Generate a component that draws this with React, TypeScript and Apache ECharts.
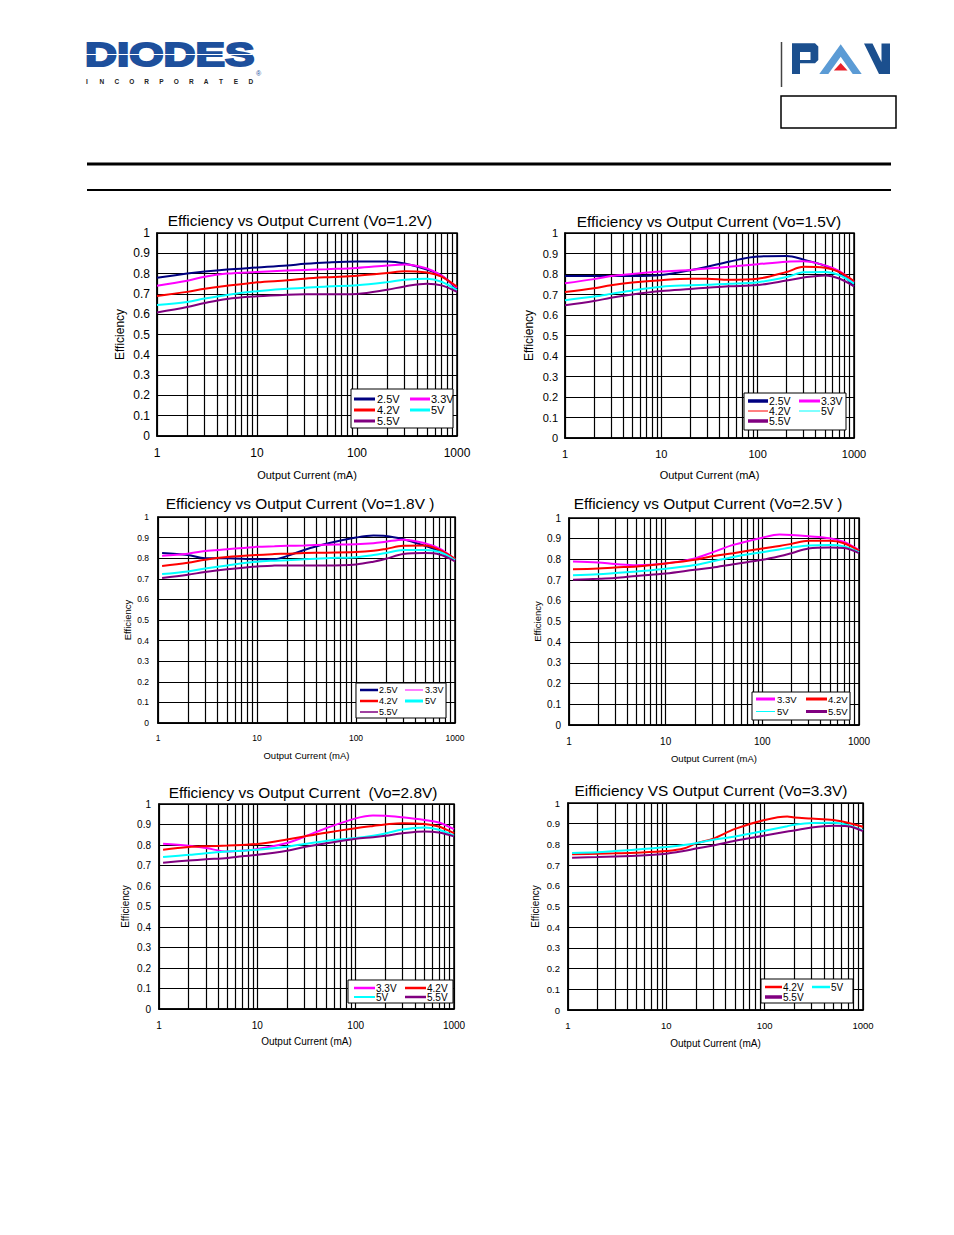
import React, { useEffect, useRef } from "react";
import * as echarts from "echarts";

const FONT = '"Liberation Sans", Arial, sans-serif';

// ---------- axis ticks ----------
const X_MINOR_LINES = [2, 3, 4, 5, 6, 7, 8, 9, 20, 30, 40, 50, 60, 70, 80, 90, 200, 300, 400, 500, 600, 700, 800, 900];

// ---------- Vo = 1.2V ----------
const vo12X = [1, 2, 3, 5, 10, 20, 30, 50, 100, 200, 300, 500, 700, 1000];
const vo12_25 = [0.78, 0.8, 0.81, 0.82, 0.83, 0.84, 0.848, 0.855, 0.86, 0.86, 0.85, 0.82, 0.79, 0.725];
const vo12_33 = [0.74, 0.765, 0.785, 0.8, 0.808, 0.815, 0.818, 0.822, 0.828, 0.84, 0.845, 0.825, 0.79, 0.73];
const vo12_42 = [0.69, 0.71, 0.725, 0.74, 0.757, 0.767, 0.775, 0.782, 0.79, 0.803, 0.812, 0.805, 0.785, 0.735];
const vo12_50 = [0.645, 0.66, 0.677, 0.695, 0.713, 0.725, 0.73, 0.737, 0.743, 0.758, 0.77, 0.775, 0.76, 0.718];
const vo12_55 = [0.608, 0.635, 0.655, 0.675, 0.688, 0.696, 0.698, 0.698, 0.7, 0.72, 0.737, 0.75, 0.742, 0.71];

// ---------- Vo = 1.5V ----------
const vo15X = [1, 2, 3, 5, 10, 20, 30, 50, 100, 200, 300, 500, 700, 1000];
const vo15_25 = [0.79, 0.79, 0.79, 0.79, 0.795, 0.818, 0.835, 0.86, 0.885, 0.888, 0.87, 0.84, 0.81, 0.74];
const vo15_33 = [0.755, 0.775, 0.79, 0.8, 0.812, 0.82, 0.827, 0.835, 0.848, 0.86, 0.862, 0.842, 0.815, 0.76];
const vo15_42 = [0.712, 0.73, 0.745, 0.758, 0.77, 0.777, 0.777, 0.772, 0.777, 0.81, 0.835, 0.83, 0.81, 0.765];
const vo15_50 = [0.672, 0.69, 0.703, 0.72, 0.738, 0.745, 0.748, 0.752, 0.76, 0.785, 0.808, 0.81, 0.795, 0.753];
const vo15_55 = [0.647, 0.668, 0.684, 0.7, 0.717, 0.727, 0.733, 0.74, 0.746, 0.768, 0.783, 0.793, 0.778, 0.74];

// ---------- Vo = 1.8V ----------
const vo18X = [1.1, 2, 3, 5, 10, 15, 20, 30, 50, 100, 150, 200, 300, 500, 700, 1000];
const vo18_25 = [0.825, 0.815, 0.8, 0.8, 0.795, 0.795, 0.81, 0.84, 0.87, 0.9, 0.91, 0.908, 0.892, 0.86, 0.835, 0.793];
const vo18_33 = [0.812, 0.822, 0.835, 0.843, 0.855, 0.858, 0.86, 0.862, 0.865, 0.868, 0.873, 0.88, 0.89, 0.872, 0.847, 0.795];
const vo18_42 = [0.762, 0.778, 0.793, 0.806, 0.816, 0.82, 0.822, 0.825, 0.827, 0.83, 0.836, 0.845, 0.86, 0.862, 0.84, 0.797];
const vo18_50 = [0.723, 0.736, 0.75, 0.765, 0.783, 0.788, 0.79, 0.795, 0.8, 0.805, 0.815, 0.825, 0.84, 0.84, 0.83, 0.79];
const vo18_55 = [0.704, 0.72, 0.733, 0.746, 0.76, 0.764, 0.765, 0.765, 0.765, 0.77, 0.783, 0.797, 0.82, 0.825, 0.818, 0.785];

// ---------- Vo = 2.5V ----------
const vo25X = [1.1, 2, 3, 5, 10, 20, 30, 50, 100, 150, 200, 300, 500, 700, 1000];
const vo25_33 = [0.79, 0.785, 0.778, 0.772, 0.78, 0.805, 0.833, 0.87, 0.905, 0.92, 0.918, 0.912, 0.902, 0.884, 0.845];
const vo25_42 = [0.752, 0.756, 0.761, 0.766, 0.78, 0.798, 0.815, 0.83, 0.853, 0.865, 0.875, 0.89, 0.89, 0.878, 0.842];
const vo25_50 = [0.723, 0.728, 0.734, 0.742, 0.755, 0.773, 0.79, 0.812, 0.835, 0.848, 0.857, 0.867, 0.87, 0.863, 0.835];
const vo25_55 = [0.702, 0.706, 0.71, 0.72, 0.732, 0.75, 0.76, 0.777, 0.798, 0.815, 0.83, 0.853, 0.858, 0.855, 0.83];

// ---------- Vo = 2.8V ----------
const vo28X = [1.1, 2, 3, 5, 7, 10, 20, 30, 50, 100, 150, 200, 300, 500, 700, 1000];
const vo28_33 = [0.806, 0.796, 0.785, 0.768, 0.772, 0.78, 0.81, 0.84, 0.882, 0.93, 0.944, 0.943, 0.935, 0.922, 0.91, 0.877];
const vo28_42 = [0.777, 0.79, 0.794, 0.797, 0.8, 0.805, 0.827, 0.842, 0.86, 0.882, 0.893, 0.9, 0.906, 0.903, 0.89, 0.858];
const vo28_50 = [0.741, 0.752, 0.76, 0.768, 0.772, 0.777, 0.792, 0.805, 0.82, 0.834, 0.845, 0.856, 0.876, 0.885, 0.874, 0.845];
const vo28_55 = [0.714, 0.724, 0.73, 0.737, 0.745, 0.752, 0.772, 0.79, 0.808, 0.83, 0.838, 0.845, 0.857, 0.866, 0.861, 0.842];

// ---------- Vo = 3.3V ----------
const vo33X = [1.1, 2, 3, 5, 10, 15, 20, 30, 50, 100, 170, 200, 300, 500, 700, 1000];
const vo33_42 = [0.752, 0.755, 0.757, 0.76, 0.768, 0.78, 0.805, 0.828, 0.875, 0.918, 0.935, 0.93, 0.925, 0.918, 0.905, 0.885];
const vo33_50 = [0.759, 0.762, 0.768, 0.775, 0.787, 0.797, 0.806, 0.822, 0.838, 0.866, 0.888, 0.895, 0.903, 0.904, 0.893, 0.868];
const vo33_55 = [0.736, 0.739, 0.742, 0.745, 0.755, 0.768, 0.78, 0.795, 0.818, 0.843, 0.862, 0.867, 0.882, 0.89, 0.888, 0.864];

const TITLES = [
  "Efficiency vs Output Current (Vo=1.2V)",
  "Efficiency vs Output Current (Vo=1.5V)",
  "Efficiency vs Output Current (Vo=1.8V )",
  "Efficiency vs Output Current (Vo=2.5V )",
  "Efficiency vs Output Current  (Vo=2.8V)",
  "Eifficiency VS Output Current (Vo=3.3V)",
];

const COLORS: Record<string, string> = {
  "2.5V": "#000080",
  "3.3V": "#ff00ff",
  "4.2V": "#ff0000",
  "5V": "#00ffff",
  "5.5V": "#800080",
};

const CHARTS: { x: number[]; series: [string, number[]][] }[] = [
  { x: vo12X, series: [["2.5V", vo12_25], ["3.3V", vo12_33], ["4.2V", vo12_42], ["5V", vo12_50], ["5.5V", vo12_55]] },
  { x: vo15X, series: [["2.5V", vo15_25], ["3.3V", vo15_33], ["4.2V", vo15_42], ["5V", vo15_50], ["5.5V", vo15_55]] },
  { x: vo18X, series: [["2.5V", vo18_25], ["3.3V", vo18_33], ["4.2V", vo18_42], ["5V", vo18_50], ["5.5V", vo18_55]] },
  { x: vo25X, series: [["3.3V", vo25_33], ["4.2V", vo25_42], ["5V", vo25_50], ["5.5V", vo25_55]] },
  { x: vo28X, series: [["3.3V", vo28_33], ["4.2V", vo28_42], ["5V", vo28_50], ["5.5V", vo28_55]] },
  { x: vo33X, series: [["4.2V", vo33_42], ["5V", vo33_50], ["5.5V", vo33_55]] },
];

// ---------- layout (positions / styles) ----------
type Leg = {
  box: [number, number, number, number];
  cols: [number, number, number][];
  rows: number[];
  font: number;
  items: [string, number][];
};
type Lay = {
  grid: { left: number; top: number; width: number; height: number };
  title: { x: number; y: number; size: number; sx: number };
  yLab: number; xLab: number; yLabM: number; xLabM: number;
  yName: number; xName: number; yGap: number; xGap: number;
  legend: Leg;
};

const LAYOUT: Lay[] = [
  {
    grid: { left: 157, top: 233, width: 300, height: 203 },
    title: { x: 300, y: 221, size: 14, sx: 1.1 },
    yLab: 12, xLab: 12, yLabM: 7, xLabM: 11, yName: 12, xName: 11, yGap: 31, xGap: 33,
    legend: {
      box: [351, 389, 102, 39], cols: [[354, 375, 377], [410, 430, 431]], rows: [399, 410, 421], font: 11,
      items: [["2.5V", 3], ["3.3V", 3], ["4.2V", 3], ["5V", 3], ["5.5V", 3]],
    },
  },
  {
    grid: { left: 565, top: 233, width: 289, height: 205 },
    title: { x: 709, y: 222, size: 14, sx: 1.1 },
    yLab: 11, xLab: 11, yLabM: 7, xLabM: 10, yName: 12, xName: 11, yGap: 30, xGap: 31,
    legend: {
      box: [744, 393, 102, 37], cols: [[748, 768, 769], [799, 820, 821]], rows: [401, 411, 421], font: 10.5,
      items: [["2.5V", 3.5], ["3.3V", 3], ["4.2V", 1], ["5V", 1], ["5.5V", 3.5]],
    },
  },
  {
    grid: { left: 158, top: 517, width: 297, height: 206 },
    title: { x: 300, y: 504, size: 14, sx: 1.1 },
    yLab: 8.5, xLab: 8.5, yLabM: 9, xLabM: 10.5, yName: 9.5, xName: 9.5, yGap: 26, xGap: 27,
    legend: {
      box: [356, 683, 90, 35], cols: [[360, 378, 379], [405, 423, 425]], rows: [690, 701, 712], font: 9,
      items: [["2.5V", 2.5], ["3.3V", 1], ["4.2V", 2.5], ["5V", 3], ["5.5V", 1.5]],
    },
  },
  {
    grid: { left: 569, top: 518, width: 290, height: 207 },
    title: { x: 708, y: 504, size: 14, sx: 1.1 },
    yLab: 10, xLab: 10, yLabM: 8, xLabM: 11, yName: 9.5, xName: 9.5, yGap: 27, xGap: 28,
    legend: {
      box: [752, 692, 98, 28], cols: [[756, 775, 777], [806, 827, 828]], rows: [699, 711.5], font: 9.5,
      items: [["3.3V", 3], ["4.2V", 3], ["5V", 1], ["5.5V", 3]],
    },
  },
  {
    grid: { left: 159, top: 804, width: 295, height: 205 },
    title: { x: 303, y: 793, size: 14, sx: 1.1 },
    yLab: 10, xLab: 10, yLabM: 8, xLabM: 11, yName: 10, xName: 10, yGap: 29, xGap: 27,
    legend: {
      box: [348, 980, 105, 23], cols: [[354, 375, 376], [405, 426, 427]], rows: [988, 997], font: 10,
      items: [["3.3V", 2.5], ["4.2V", 2.5], ["5V", 2], ["5.5V", 2.5]],
    },
  },
  {
    grid: { left: 568, top: 803, width: 295, height: 207 },
    title: { x: 711, y: 791, size: 14, sx: 1.1 },
    yLab: 9.5, xLab: 9.5, yLabM: 8, xLabM: 10, yName: 10, xName: 10, yGap: 28, xGap: 28,
    legend: {
      box: [761, 979, 92, 24], cols: [[765, 782, 783], [812, 830, 831]], rows: [987, 997], font: 10,
      items: [["4.2V", 2.5], ["5V", 2.5], ["5.5V", 3.5]],
    },
  },
];

function text(x: number, y: number, t: string, size: number, extra: any = {}) {
  const align = extra.align || "left";
  const style: any = {
    text: t,
    fontSize: size,
    fontFamily: extra.family || FONT,
    fontWeight: extra.weight || "normal",
    fill: extra.fill || "#000",
    align,
    textAlign: align,
    verticalAlign: "middle",
    textVerticalAlign: "middle",
  };
  if (extra.stroke) {
    style.stroke = extra.stroke;
    style.lineWidth = extra.lineWidth || 1;
  }
  return {
    type: "text",
    x,
    y,
    z: 30,
    silent: true,
    scaleX: extra.scaleX || 1,
    style,
  };
}

function buildGraphic() {
  const els: any[] = [];
  // ---- DIODES logo ----
  els.push(text(85, 54.5, "DIODES", 33, { weight: "900", fill: "#1d4f9c", stroke: "#1d4f9c", lineWidth: 2, scaleX: 1.34 }));
  els.push({ type: "line", z: 32, shape: { x1: 86, y1: 54.5, x2: 252, y2: 54.5 }, style: { stroke: "#fff", lineWidth: 1 } });
  const inc = "INCORPORATED".split("");
  inc.forEach((ch, i) => {
    els.push(text(87 + i * 14.9, 81, ch, 6.5, { weight: "bold", fill: "#222", align: "center" }));
  });
  els.push(text(256, 73, "®", 7, { fill: "#1d4f9c" }));

  // ---- PAM logo ----
  els.push({ type: "line", z: 30, shape: { x1: 781.5, y1: 42, x2: 781.5, y2: 87 }, style: { stroke: "#444", lineWidth: 1.5 } });
  els.push({
    type: "polygon", z: 30,
    shape: { points: [[792, 43.3], [815, 43.3], [818.3, 46.5], [818.3, 60], [815, 63.3], [800, 63.3], [800, 74], [792, 74]] },
    style: { fill: "#1b4f8e" },
  });
  els.push({ type: "rect", z: 31, shape: { x: 800, y: 52, width: 10.5, height: 8 }, style: { fill: "#fff" } });
  els.push({
    type: "polygon", z: 30,
    shape: { points: [[840.7, 44.3], [861.7, 74], [852.7, 74], [840.7, 56.7], [828.3, 74], [819.3, 74]] },
    style: { fill: "#5b9bd5" },
  });
  els.push({
    type: "polygon", z: 31,
    shape: { points: [[840.7, 63], [847.5, 70.5], [833.9, 70.5]] },
    style: { fill: "#e8202a" },
  });
  els.push({
    type: "polygon", z: 30,
    shape: { points: [[864, 43.5], [872.5, 43.5], [881.5, 62], [881.5, 43.5], [890, 43.5], [890, 74], [879, 74]] },
    style: { fill: "#1b4f8e" },
  });
  els.push({ type: "rect", z: 30, shape: { x: 781, y: 96, width: 115, height: 32 }, style: { fill: "none", stroke: "#000", lineWidth: 1.5 } });

  // ---- header rules ----
  els.push({ type: "line", z: 30, shape: { x1: 87, y1: 164, x2: 891, y2: 164 }, style: { stroke: "#000", lineWidth: 3 } });
  els.push({ type: "line", z: 30, shape: { x1: 87, y1: 190, x2: 891, y2: 190 }, style: { stroke: "#000", lineWidth: 2 } });

  // ---- titles & legends ----
  LAYOUT.forEach((lay, ci) => {
    els.push(text(lay.title.x, lay.title.y, TITLES[ci], lay.title.size, { align: "center", scaleX: lay.title.sx }));
    const lg = lay.legend;
    const [bx, by, bw, bh] = lg.box;
    els.push({ type: "rect", z: 25, shape: { x: bx, y: by, width: bw, height: bh }, style: { fill: "#fff", stroke: "#000", lineWidth: 1 } });
    lg.items.forEach(([name, lw], i) => {
      const col = lg.cols[i % 2];
      const ry = lg.rows[Math.floor(i / 2)];
      els.push({ type: "line", z: 30, shape: { x1: col[0], y1: ry, x2: col[1], y2: ry }, style: { stroke: COLORS[name], lineWidth: lw } });
      els.push(text(col[2], ry, name, lg.font));
    });
  });
  return els;
}

function buildOption() {
  const grid: any[] = [];
  const xAxis: any[] = [];
  const yAxis: any[] = [];
  const series: any[] = [];
  CHARTS.forEach((ch, ci) => {
    const lay = LAYOUT[ci];
    grid.push({
      ...lay.grid,
      show: true,
      borderColor: "#000",
      borderWidth: 1.5,
      backgroundColor: "#fff",
      containLabel: false,
      outerBoundsMode: "none",
    });
    xAxis.push({
      type: "log",
      logBase: 10,
      gridIndex: ci,
      min: 1,
      max: 1000,
      name: "Output Current (mA)",
      nameLocation: "middle",
      nameGap: lay.xGap,
      nameTextStyle: { fontSize: lay.xName, color: "#000", fontFamily: FONT },
      axisLine: { show: true, lineStyle: { color: "#000", width: 1.5 } },
      axisTick: { show: false },
      axisLabel: {
        fontSize: lay.xLab,
        color: "#000",
        fontFamily: FONT,
        margin: lay.xLabM,
        formatter: (v: number) => String(Math.round(v)),
      },
      splitLine: { show: true, lineStyle: { color: "#000", width: 1.2 } },
    });
    yAxis.push({
      type: "value",
      gridIndex: ci,
      min: 0,
      max: 1,
      interval: 0.1,
      name: "Efficiency",
      nameLocation: "middle",
      nameRotate: 90,
      nameGap: lay.yGap,
      nameTextStyle: { fontSize: lay.yName, color: "#000", fontFamily: FONT },
      axisLine: { show: true, lineStyle: { color: "#000", width: 1.5 } },
      axisTick: { show: false },
      axisLabel: {
        fontSize: lay.yLab,
        color: "#000",
        fontFamily: FONT,
        margin: lay.yLabM,
        formatter: (v: number) => (v === 0 ? "0" : v === 1 ? "1" : v.toFixed(1)),
      },
      splitLine: { show: true, lineStyle: { color: "#000", width: 1.2 } },
    });
    ch.series.forEach(([name, ys], si) => {
      const s: any = {
        type: "line",
        name,
        xAxisIndex: ci,
        yAxisIndex: ci,
        smooth: 0.35,
        showSymbol: false,
        symbol: "none",
        z: 3,
        lineStyle: { color: COLORS[name], width: 2 },
        itemStyle: { color: COLORS[name] },
        data: ch.x.map((xv, i) => [xv, ys[i]]),
      };
      if (si === 0) {
        s.markLine = {
          silent: true,
          z: 1,
          symbol: ["none", "none"],
          label: { show: false },
          emphasis: { disabled: true },
          lineStyle: { color: "#000", width: 1.2, type: "solid" },
          data: X_MINOR_LINES.map((v) => ({ xAxis: v })),
        };
      }
      series.push(s);
    });
  });
  return {
    animation: false,
    backgroundColor: "#fff",
    grid,
    xAxis,
    yAxis,
    series,
    graphic: { elements: buildGraphic() },
  };
}

export default function App() {
  const ref = useRef<HTMLDivElement>(null);
  useEffect(() => {
    if (!ref.current) return;
    const chart = echarts.init(ref.current, undefined, { renderer: "svg" });
    chart.setOption(buildOption() as any);
    return () => chart.dispose();
  }, []);
  return (
    <div
      ref={ref}
      style={{ position: "absolute", left: 0, top: 0, width: 954, height: 1235, background: "#fff" }}
    />
  );
}
